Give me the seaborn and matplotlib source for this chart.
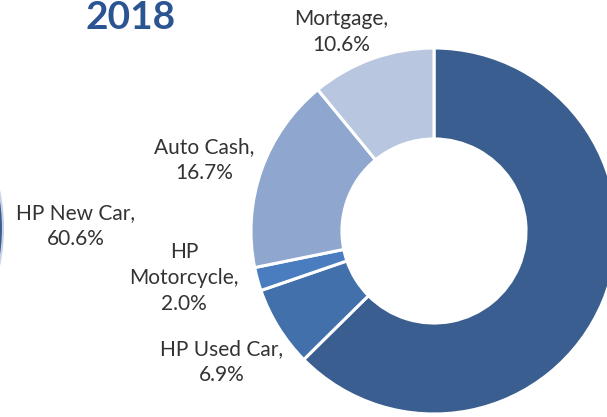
import matplotlib
matplotlib.use("Agg")
import matplotlib.pyplot as plt
import seaborn as sns
from matplotlib.patches import Circle

sns.set_theme(style="white")
plt.rcParams['font.family'] = ['Lato', 'DejaVu Sans']

categories = ["HP New Car", "HP Used Car", "HP Motorcycle", "Auto Cash", "Mortgage"]
values = [60.6, 6.9, 2.0, 16.7, 10.6]
label_texts = ["HP New Car,\n60.6%", "HP Used Car,\n6.9%", "HP\nMotorcycle,\n2.0%",
               "Auto Cash,\n16.7%", "Mortgage,\n10.6%"]
colors = ["#3A5E8F", "#4270AA", "#4A7DC0", "#8FA6CF", "#B8C6E0"]
title = "2018"

W, H = 607, 417
fig = plt.figure(figsize=(W / 100, H / 100), dpi=100)
ax = fig.add_axes([0, 0, 1, 1])

cx, cy, R = 434, H - 231, 183
ax.pie(values, colors=colors, startangle=90, counterclock=False,
       center=(cx, cy), radius=R, frame=True,
       wedgeprops=dict(width=R * 0.497, edgecolor="white", linewidth=2.2))
ax.set_xlim(0, W)
ax.set_ylim(0, H)
ax.set_aspect("equal")
ax.axis("off")

# sliver of the neighbouring chart at the left edge
ax.add_patch(Circle((3 - 183, H - 228), 183, facecolor="#3A5E8F", edgecolor="#C9D3E6", linewidth=1.5))

label_pos = [(76, 226), (222, 362), (184, 278), (204, 160), (341, 32)]
for txt, (x, y) in zip(label_texts, label_pos):
    ax.text(x, H - y, txt, ha="center", va="center", fontsize=15,
            color="#333333", linespacing=1.35)

ax.text(131, H - 17, title, ha="center", va="center", fontsize=28,
        fontweight="bold", color="#2B5592")

fig.savefig("out.png", dpi=100)
